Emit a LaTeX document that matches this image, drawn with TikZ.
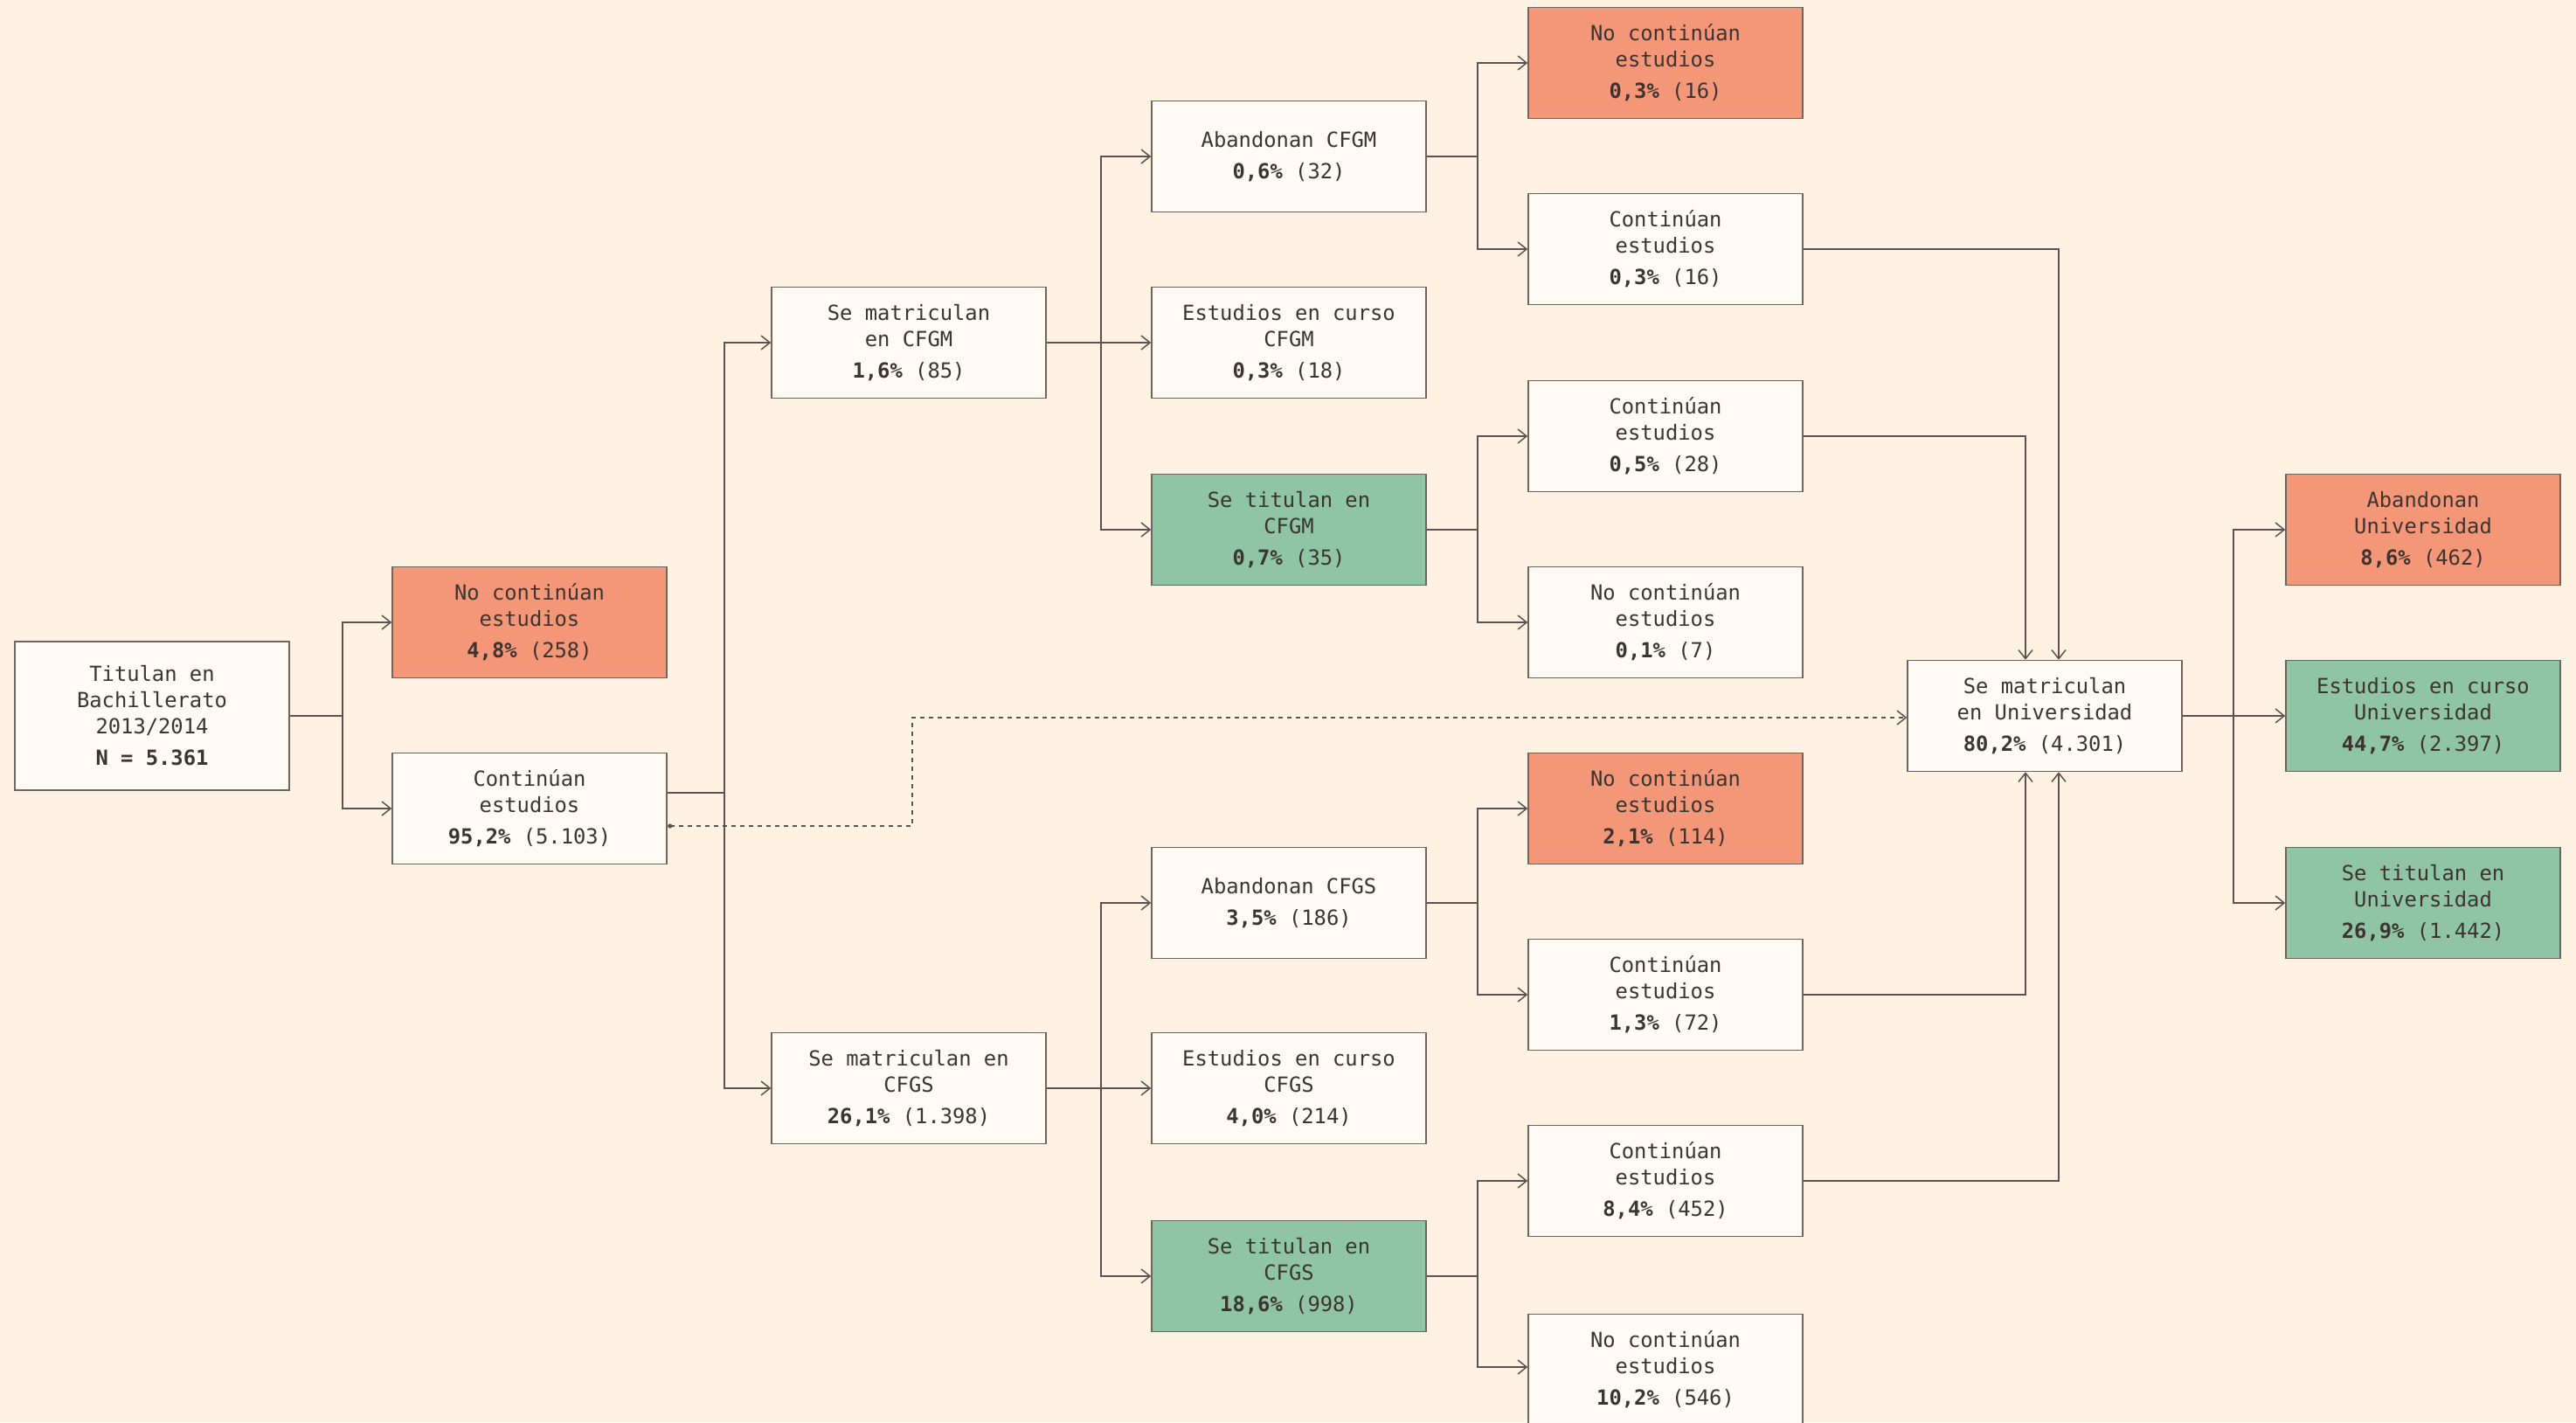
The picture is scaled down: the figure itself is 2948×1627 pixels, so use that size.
\documentclass[tikz,border=0pt]{standalone}
\usepackage{fontspec}
\setmainfont{DejaVu Sans Mono}
\usetikzlibrary{arrows.meta,calc}
\definecolor{bg}{HTML}{FEF3E3}
\definecolor{boxw}{HTML}{FFFAF4}
\definecolor{salm}{HTML}{F49779}
\definecolor{grn}{HTML}{8FC4A5}
\definecolor{txt}{HTML}{3B3430}
\definecolor{bordc}{HTML}{6E6460}
\definecolor{linec}{HTML}{5C534E}
\begin{document}
\begin{tikzpicture}[x=0.5pt,y=-0.5pt,
  box/.style={draw=bordc, line width=0.75pt, fill=boxw, minimum width=157pt,
    minimum height=63.5pt, inner sep=0pt, align=center,
    font=\fontsize{11.9pt}{15pt}\selectfont, text=txt},
  salmbox/.style={box, fill=salm},
  grnbox/.style={box, fill=grn},
  conn/.style={draw=linec, line width=0.75pt},
  link/.style={conn, -{Straight Barb[length=5pt,width=8pt]}},
  dotlink/.style={link, dash pattern=on 2.5pt off 2.5pt}
]
\fill[bg] (0,0) rectangle (2948,1627);
\useasboundingbox (0,0) rectangle (2948,1627);

% column 1
\node[box, minimum height=85pt] (tit) at (174,819) {Titulan en\\Bachillerato\\2013/2014\\[3pt]\textbf{N = 5.361}};
% column 2
\node[salmbox] (nc1) at (606,712) {No continúan\\estudios\\[3pt]\textbf{4,8\%} (258)};
\node[box] (co1) at (606,925) {Continúan\\estudios\\[3pt]\textbf{95,2\%} (5.103)};
% column 3
\node[box] (mgm) at (1040,392) {Se matriculan\\en CFGM\\[3pt]\textbf{1,6\%} (85)};
\node[box] (mgs) at (1040,1245) {Se matriculan en\\CFGS\\[3pt]\textbf{26,1\%} (1.398)};
% column 4
\node[box] (agm) at (1475,179) {Abandonan CFGM\\[3pt]\textbf{0,6\%} (32)};
\node[box] (egm) at (1475,392) {Estudios en curso\\CFGM\\[3pt]\textbf{0,3\%} (18)};
\node[grnbox] (tgm) at (1475,606) {Se titulan en\\CFGM\\[3pt]\textbf{0,7\%} (35)};
\node[box] (ags) at (1475,1033) {Abandonan CFGS\\[3pt]\textbf{3,5\%} (186)};
\node[box] (egs) at (1475,1245) {Estudios en curso\\CFGS\\[3pt]\textbf{4,0\%} (214)};
\node[grnbox] (tgs) at (1475,1460) {Se titulan en\\CFGS\\[3pt]\textbf{18,6\%} (998)};
% column 5
\node[salmbox] (a1) at (1906,72) {No continúan\\estudios\\[3pt]\textbf{0,3\%} (16)};
\node[box] (a2) at (1906,285) {Continúan\\estudios\\[3pt]\textbf{0,3\%} (16)};
\node[box] (a3) at (1906,499) {Continúan\\estudios\\[3pt]\textbf{0,5\%} (28)};
\node[box] (a4) at (1906,712) {No continúan\\estudios\\[3pt]\textbf{0,1\%} (7)};
\node[salmbox] (a5) at (1906,925) {No continúan\\estudios\\[3pt]\textbf{2,1\%} (114)};
\node[box] (a6) at (1906,1138) {Continúan\\estudios\\[3pt]\textbf{1,3\%} (72)};
\node[box] (a7) at (1906,1351) {Continúan\\estudios\\[3pt]\textbf{8,4\%} (452)};
\node[box] (a8) at (1906,1567) {No continúan\\estudios\\[3pt]\textbf{10,2\%} (546)};
% column 6
\node[box] (univ) at (2340,819) {Se matriculan\\en Universidad\\[3pt]\textbf{80,2\%} (4.301)};
% column 7
\node[salmbox] (u1) at (2773,606) {Abandonan\\Universidad\\[3pt]\textbf{8,6\%} (462)};
\node[grnbox] (u2) at (2773,819) {Estudios en curso\\Universidad\\[3pt]\textbf{44,7\%} (2.397)};
\node[grnbox] (u3) at (2773,1033) {Se titulan en\\Universidad\\[3pt]\textbf{26,9\%} (1.442)};

% connectors
\draw[conn] (tit.east) -- ++(60,0) coordinate (j1);
\draw[link] (j1) |- (nc1.west);
\draw[link] (j1) |- (co1.west);

\draw[conn] ($(co1.east)+(0,-18)$) -- ++(65,0) coordinate (j2);
\draw[link] (j2) |- (mgm.west);
\draw[link] (j2) |- (mgs.west);

\draw[conn] (mgm.east) -- ++(62,0) coordinate (j3);
\draw[link] (j3) |- (agm.west);
\draw[link] (j3) |- (egm.west);
\draw[link] (j3) |- (tgm.west);

\draw[conn] (mgs.east) -- ++(62,0) coordinate (j4);
\draw[link] (j4) |- (ags.west);
\draw[link] (j4) |- (egs.west);
\draw[link] (j4) |- (tgs.west);

\draw[conn] (agm.east) -- ++(58,0) coordinate (j5);
\draw[link] (j5) |- (a1.west);
\draw[link] (j5) |- (a2.west);
\draw[conn] (tgm.east) -- ++(58,0) coordinate (j6);
\draw[link] (j6) |- (a3.west);
\draw[link] (j6) |- (a4.west);
\draw[conn] (ags.east) -- ++(58,0) coordinate (j7);
\draw[link] (j7) |- (a5.west);
\draw[link] (j7) |- (a6.west);
\draw[conn] (tgs.east) -- ++(58,0) coordinate (j8);
\draw[link] (j8) |- (a7.west);
\draw[link] (j8) |- ($(a8.west)+(0,-3)$);

\draw[link] (a2.east) -| ($(univ.north)+(16,0)$);
\draw[link] (a3.east) -| ($(univ.north)+(-22,0)$);
\draw[link] (a6.east) -| ($(univ.south)+(-22,0)$);
\draw[link] (a7.east) -| ($(univ.south)+(16,0)$);

\draw[conn] (univ.east) -- ++(58,0) coordinate (j9);
\draw[link] (j9) |- (u1.west);
\draw[link] (j9) |- (u2.west);
\draw[link] (j9) |- (u3.west);

\coordinate (d0) at ($(co1.east)+(3,20)$);
\draw[dotlink] (d0) -- ++(277,0) |- ($(univ.west)+(0,2)$);
\fill[linec] (d0) circle (1.3pt);
\end{tikzpicture}
\end{document}
